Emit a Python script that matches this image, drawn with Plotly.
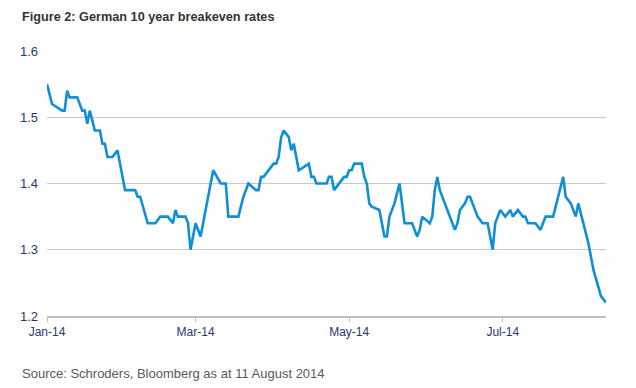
import plotly.graph_objects as go

dates = [
    "2014-01-01", "2014-01-03", "2014-01-07", "2014-01-08", "2014-01-09", "2014-01-10",
    "2014-01-13", "2014-01-15", "2014-01-16", "2014-01-17", "2014-01-18", "2014-01-20",
    "2014-01-22", "2014-01-23", "2014-01-24", "2014-01-25", "2014-01-27", "2014-01-29",
    "2014-02-01", "2014-02-05", "2014-02-06", "2014-02-07", "2014-02-10", "2014-02-13",
    "2014-02-15", "2014-02-18", "2014-02-20", "2014-02-21", "2014-02-22", "2014-02-25",
    "2014-02-26", "2014-02-27", "2014-03-01", "2014-03-03", "2014-03-05", "2014-03-06",
    "2014-03-08", "2014-03-11", "2014-03-13", "2014-03-14", "2014-03-18", "2014-03-20",
    "2014-03-22", "2014-03-25", "2014-03-26", "2014-03-27", "2014-03-28", "2014-04-01",
    "2014-04-02", "2014-04-03", "2014-04-04", "2014-04-05", "2014-04-07", "2014-04-08",
    "2014-04-09", "2014-04-11", "2014-04-15", "2014-04-16", "2014-04-17", "2014-04-18",
    "2014-04-22", "2014-04-23", "2014-04-24", "2014-04-25", "2014-04-29", "2014-04-30",
    "2014-05-01", "2014-05-02", "2014-05-03", "2014-05-06", "2014-05-07", "2014-05-08",
    "2014-05-09", "2014-05-10", "2014-05-13", "2014-05-15", "2014-05-16", "2014-05-17",
    "2014-05-19", "2014-05-21", "2014-05-23", "2014-05-26", "2014-05-28", "2014-05-29",
    "2014-05-30", "2014-06-02", "2014-06-03", "2014-06-04", "2014-06-05", "2014-06-06",
    "2014-06-09", "2014-06-12", "2014-06-13", "2014-06-14", "2014-06-16", "2014-06-17",
    "2014-06-18", "2014-06-20", "2014-06-21", "2014-06-23", "2014-06-25", "2014-06-27",
    "2014-06-28", "2014-06-30", "2014-07-02", "2014-07-04", "2014-07-05", "2014-07-07",
    "2014-07-09", "2014-07-10", "2014-07-11", "2014-07-14", "2014-07-16", "2014-07-18",
    "2014-07-21", "2014-07-23", "2014-07-25", "2014-07-26", "2014-07-28", "2014-07-30",
    "2014-07-31", "2014-08-02", "2014-08-04", "2014-08-06", "2014-08-09", "2014-08-11",
]

breakeven = [
    1.55, 1.52, 1.51, 1.51, 1.54, 1.53,
    1.53, 1.51, 1.51, 1.49, 1.51, 1.48,
    1.48, 1.46, 1.46, 1.44, 1.44, 1.45,
    1.39, 1.39, 1.38, 1.38, 1.34, 1.34,
    1.35, 1.35, 1.34, 1.36, 1.35, 1.35,
    1.34, 1.30, 1.34, 1.32, 1.36, 1.38,
    1.42, 1.40, 1.40, 1.35, 1.35, 1.38,
    1.40, 1.39, 1.39, 1.41, 1.41, 1.43,
    1.43, 1.44, 1.47, 1.48, 1.47, 1.45,
    1.46, 1.42, 1.43, 1.41, 1.41, 1.40,
    1.40, 1.41, 1.41, 1.39, 1.41, 1.41,
    1.42, 1.42, 1.43, 1.43, 1.41, 1.40,
    1.37, 1.365, 1.36, 1.32, 1.32, 1.35,
    1.37, 1.40, 1.34, 1.34, 1.32, 1.33,
    1.35, 1.34, 1.35, 1.39, 1.41, 1.39,
    1.36, 1.33, 1.34, 1.36, 1.37, 1.38,
    1.38, 1.36, 1.35, 1.34, 1.34, 1.30,
    1.34, 1.36, 1.35, 1.36, 1.35, 1.36,
    1.35, 1.35, 1.34, 1.34, 1.33, 1.35,
    1.35, 1.38, 1.41, 1.38, 1.37, 1.35,
    1.37, 1.34, 1.31, 1.27, 1.23, 1.22,
]

y_ticks = [1.2, 1.3, 1.4, 1.5, 1.6]
y_tick_labels = ["1.2", "1.3", "1.4", "1.5", "1.6"]

title_text = "<b>Figure 2: German 10 year breakeven rates</b>"
source_text = "Source: Schroders, Bloomberg as at 11 August 2014"

FONT = "Liberation Sans, Arial, sans-serif"
TICK_COLOR = "#1f3a6b"

# the page body adds an 8px offset, so the figure is 8px smaller
W, H = 628, 380
L, R, T, B = 28, 30, 43, 72
pw = W - L - R
ph = H - T - B


def px_x(x_page):
    return (x_page - 8 - L) / pw


def px_y(y_page):
    return 1 - (y_page - 8 - T) / ph


fig = go.Figure()
fig.add_trace(go.Scatter(
    x=dates, y=breakeven, mode="lines",
    line=dict(color="#0e8fd6", width=2.6),
    hoverinfo="skip",
))

fig.update_layout(
    width=W, height=H,
    margin=dict(l=L, r=R, t=T, b=B),
    paper_bgcolor="white", plot_bgcolor="white",
    showlegend=False,
    font=dict(family=FONT, size=12, color=TICK_COLOR),
    xaxis=dict(
        type="date",
        range=["2014-01-01", "2014-08-11"],
        tick0="2014-01-01", dtick="M2", tickformat="%b-%y",
        showgrid=False, zeroline=False,
        showline=True, linecolor="#bfbfbf", linewidth=1.5,
        ticks="outside", ticklen=4, tickcolor="#bfbfbf", tickwidth=1,
        tickfont=dict(family=FONT, size=12, color=TICK_COLOR),
    ),
    yaxis=dict(
        range=[1.2, 1.6],
        tickvals=y_ticks, ticktext=y_tick_labels,
        showgrid=True, gridcolor="#c8c8c8", gridwidth=1.3,
        zeroline=False, showline=False, ticks="",
        tickfont=dict(family=FONT, size=13, color=TICK_COLOR),
        ticklabelstandoff=8,
    ),
    annotations=[
        dict(text=title_text, xref="paper", yref="paper", showarrow=False,
             x=px_x(8), y=px_y(8), xanchor="left", yanchor="top",
             font=dict(family=FONT, size=12.7, color="#333333")),
        dict(text=source_text, xref="paper", yref="paper", showarrow=False,
             x=px_x(8), y=px_y(373), xanchor="left", yanchor="middle",
             font=dict(family=FONT, size=13, color="#595959")),
    ],
)

fig.write_html("out.html")
